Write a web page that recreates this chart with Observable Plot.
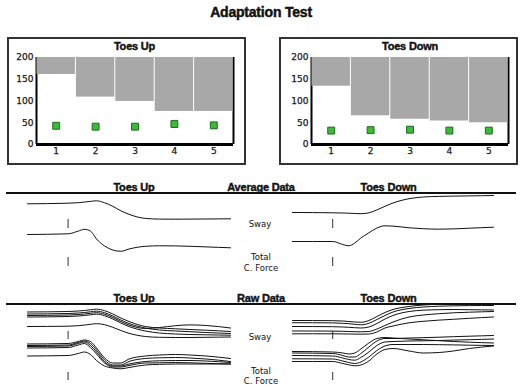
<!DOCTYPE html>
<html><head><meta charset="utf-8">
<script src="https://cdn.jsdelivr.net/npm/d3@7"></script>
<script src="https://cdn.jsdelivr.net/npm/@observablehq/plot@0.6"></script>
<style>
body{margin:0;background:#fff;}
#root{position:relative;width:527px;height:390px;overflow:hidden;font-family:"Liberation Sans",Arial,sans-serif;color:#111;}
.t{position:absolute;transform:translate(-50%,-50%);white-space:nowrap;line-height:1;}
.title{font-weight:bold;font-size:14px;-webkit-text-stroke:0.45px #111;letter-spacing:-0.2px;}
.h{font-weight:bold;font-size:11px;-webkit-text-stroke:0.4px #111;letter-spacing:-0.2px;}
.lab{font-size:8.5px;font-family:"DejaVu Sans",sans-serif;}
.box{position:absolute;border:2px solid #333;box-sizing:border-box;}
.rule{position:absolute;height:2px;background:#111;}
.p{position:absolute;}
svg{overflow:visible;}
svg text{stroke:#222;stroke-width:0.25px;}
</style></head><body><div id="root"></div>
<script>
// ---- bar panels ----
const trials = [1, 2, 3, 4, 5];
const yTicks = [0, 50, 100, 150, 200];
const yMax = 200;
const toesUpGrey = [161, 109, 99, 76, 76];
const toesUpGreen = [43, 41, 41, 47, 44];
const toesDownGrey = [134, 66, 58, 54, 50];
const toesDownGreen = [32, 33, 34, 32, 32];

// ---- traces (time in s, values in arbitrary units) ----
const onset = [2];
const time = [0, 2, 2.5, 2.8, 3.1, 3.4, 3.8, 4.2, 4.6, 5, 5.8, 6.5, 7.3, 8, 8.8, 10];
const signals = ["Sway", "Total C. Force"];

const avgUpSway = [29.7, 30.3, 30.8, 31.4, 32.1, 32.7, 30.7, 27.2, 22.7, 19.2, 15.1, 14.4, 14.3, 14.4, 14.5, 14.7];
const avgUpForce = [37, 37.7, 40.4, 42.2, 40.5, 32.5, 25.5, 21.5, 20.2, 22.5, 25.2, 25.7, 25.6, 25.2, 24.6, 23.7];
const avgDownSway = [21, 20.7, 20.5, 20.3, 20, 19.8, 20.7, 23.6, 27.2, 30.5, 34.8, 36.5, 37.1, 37.4, 37.6, 38];
const avgDownForce = [30, 30, 27, 25.7, 28.5, 33.5, 38.7, 43.5, 45.7, 45.4, 43.7, 42.8, 42.3, 42.6, 43.3, 44.3];

const rawUpSway = [
  [35.5, 36, 36.5, 37, 37.7, 38.3, 36.8, 33.5, 29.5, 26, 21, 19.5, 18.7, 18, 17.3, 16],
  [33.5, 34, 34.5, 35, 35.7, 36.3, 34.8, 31.5, 27.5, 24, 19.5, 17.5, 16.5, 15.8, 15, 14],
  [32, 32.5, 33, 33.5, 34.2, 34.8, 33.3, 30, 26, 22.5, 19, 20, 21.8, 22.6, 22, 19.5],
  [30.5, 31, 31.5, 32, 32.7, 33.3, 31.8, 28.5, 24.5, 21, 16.5, 14.5, 13.5, 13, 12.7, 12.3],
  [21, 21.3, 21.8, 22.4, 23.2, 23.8, 22.8, 20.2, 17, 14.2, 11, 10.2, 10, 10, 10.2, 10.5]
];
const rawUpForce = [
  [44.5, 45, 47, 48.5, 47, 40.5, 30.5, 25.5, 25.5, 29.5, 32.5, 33.5, 34, 33.5, 32.5, 30],
  [43, 43.5, 46, 47.5, 45, 38.5, 28.5, 23.5, 23.5, 27, 30, 30.7, 31, 30.5, 29.5, 27],
  [42, 42.5, 45, 46.5, 43, 36.5, 26.5, 22.5, 22.5, 24.5, 27, 27.7, 28, 28, 27.5, 26],
  [40.5, 41, 43.5, 45, 41, 34.5, 25.5, 21.5, 21.5, 23, 25.5, 25.7, 26, 25.7, 25.2, 24.5],
  [32.5, 33, 35, 36.5, 34, 28, 22.5, 20.5, 19.7, 21, 23.5, 24.2, 24.5, 24.5, 24.5, 24.5]
];
const rawDownSway = [
  [27, 26.8, 26.5, 26, 25.5, 25.2, 27, 31, 35, 38, 41, 42.5, 43.2, 43.5, 43.8, 44],
  [24.8, 24.6, 24.2, 23.8, 23.2, 22.7, 24.2, 28, 32, 35.5, 39, 40.5, 41.3, 41.7, 41.9, 42],
  [21, 20.8, 20.5, 20.2, 19.8, 19.5, 20.5, 24, 28.5, 32, 36, 37.3, 37.8, 38, 37.8, 37.5],
  [16.5, 16.4, 16.2, 16, 15.8, 15.7, 16, 18.5, 22, 25.5, 30.5, 32.5, 33.8, 34.7, 35.3, 36],
  [13.7, 13.7, 13.6, 13.5, 13.4, 13.3, 13.5, 15.5, 19.5, 21.5, 24.7, 26.2, 27.4, 28.2, 29.2, 30.5]
];
const rawDownForce = [
  [37, 36.5, 35.5, 34.5, 35.5, 39.5, 45.5, 50, 51, 50.5, 49.5, 48.7, 47.8, 47, 46.3, 45.5],
  [35.5, 35, 33, 31.5, 31.5, 35, 41.5, 47.5, 50, 50, 50.5, 50.8, 51.3, 51.8, 52.3, 53],
  [33, 32.5, 30.5, 29, 28.3, 31, 36.5, 43, 46.5, 47, 47.5, 47.7, 48, 48.4, 48.8, 49.5],
  [29.7, 29.5, 27.5, 26, 25, 26.5, 31.5, 38, 42.5, 44, 44, 44, 43.8, 43.6, 43.3, 43],
  [27, 27, 25, 23.7, 22.7, 23.5, 27.5, 34.5, 39, 40, 37.5, 35.5, 36, 37.5, 40, 42.5]
];

const root = document.getElementById("root");
function text(str, x, y, cls) {
  const d = document.createElement("div");
  d.className = "t " + cls;
  d.textContent = str;
  d.style.left = x + "px"; d.style.top = y + "px";
  root.appendChild(d);
}
function place(el, left, top) {
  el.classList.add("p");
  el.style.left = left + "px"; el.style.top = top + "px";
  root.appendChild(el);
}
function box(left, top, w, h) {
  const d = document.createElement("div");
  d.className = "box";
  Object.assign(d.style, {left: left + "px", top: top + "px", width: w + "px", height: h + "px"});
  root.appendChild(d);
}
function rule(left, top, w) {
  const d = document.createElement("div");
  d.className = "rule";
  Object.assign(d.style, {left: left + "px", top: top + "px", width: w + "px"});
  root.appendChild(d);
}

function barPanel(grey, green, mL, mR) {
  const data = trials.map((tr, i) => ({trial: tr, level: grey[i], score: green[i]}));
  return Plot.plot({
    width: 239, height: 128,
    marginLeft: mL, marginRight: mR, marginTop: 20, marginBottom: 21,
    style: {background: "transparent", fontSize: "9px", fontFamily: "'DejaVu Sans', sans-serif", color: "#111"},
    x: {domain: [0.5, 5.5], ticks: trials, tickSize: 0, tickPadding: 3, tickFormat: d => String(d), label: null},
    y: {domain: [0, yMax], ticks: yTicks, tickSize: 0, tickPadding: 3, label: null},
    marks: [
      Plot.ruleX([0.5, 5.5], {stroke: "#000", strokeWidth: 2}),
      Plot.rectY(data, {x1: d => d.trial - 0.5, x2: d => d.trial + 0.5, y1: () => yMax, y2: "level",
        fill: "#a8a8a8", insetLeft: 0.5, insetRight: 0.5}),
      Plot.ruleY([0], {stroke: "#000", strokeWidth: 3}),
      Plot.dot(data, {x: "trial", y: "score", symbol: "square", r: 3.9,
        fill: "#3cb93c", stroke: "#1f6b1f", strokeWidth: 1})
    ]
  });
}

function tracePanel(swayList, forceList, width, rowH, mL, mR, inTop, inBottom) {
  const data = [];
  swayList.forEach((arr, k) => time.forEach((t, i) => data.push({t, v: arr[i], trial: "s" + k, signal: signals[0]})));
  forceList.forEach((arr, k) => time.forEach((t, i) => data.push({t, v: arr[i], trial: "f" + k, signal: signals[1]})));
  return Plot.plot({
    width, height: rowH * 2,
    marginLeft: mL, marginRight: mR, marginTop: 0, marginBottom: 0,
    style: {background: "transparent", overflow: "visible"},
    x: {domain: [0, 10], axis: null},
    y: {domain: [0, rowH], axis: null},
    fy: {domain: signals, axis: null, padding: 0},
    marks: [
      Plot.ruleX(onset, {insetTop: inTop, insetBottom: inBottom, stroke: "#333", strokeWidth: 1}),
      Plot.line(data, {x: "t", y: "v", z: "trial", fy: "signal", curve: "monotone-x",
        stroke: "#111", strokeWidth: 1})
    ]
  });
}

// title
text("Adaptation Test", 261, 12, "title");

// bar boxes
box(7, 37, 239, 128);
box(279, 37, 239, 128);
place(barPanel(toesUpGrey, toesUpGreen, 29, 13), 7, 37);
place(barPanel(toesDownGrey, toesDownGreen, 32, 10), 279, 37);
text("Toes Up", 134.5, 45.5, "h");
text("Toes Down", 410, 45.5, "h");

// average data
text("Toes Up", 134, 186.5, "h");
text("Average Data", 261, 186.5, "h");
text("Toes Down", 388.5, 186.5, "h");
rule(6, 192, 510);
place(tracePanel([avgUpSway], [avgUpForce], 263, 38, 27, 33, 24, 5), 0, 195);
place(tracePanel([avgDownSway], [avgDownForce], 264, 38, 29, 34, 24, 5), 263, 195);
text("Sway", 260, 224, "lab");
text("Total", 261, 257, "lab");
text("C. Force", 261, 268, "lab");

// raw data
text("Toes Up", 134, 298, "h");
text("Raw Data", 261, 298, "h");
text("Toes Down", 388.5, 298, "h");
rule(6, 303, 510);
place(tracePanel(rawUpSway, rawUpForce, 263, 41, 27, 33, 25, 8), 0, 306);
place(tracePanel(rawDownSway, rawDownForce, 264, 41, 29, 34, 25, 8), 263, 306);
text("Sway", 260, 336.5, "lab");
text("Total", 261, 371, "lab");
text("C. Force", 261, 380.5, "lab");
</script></body></html>
